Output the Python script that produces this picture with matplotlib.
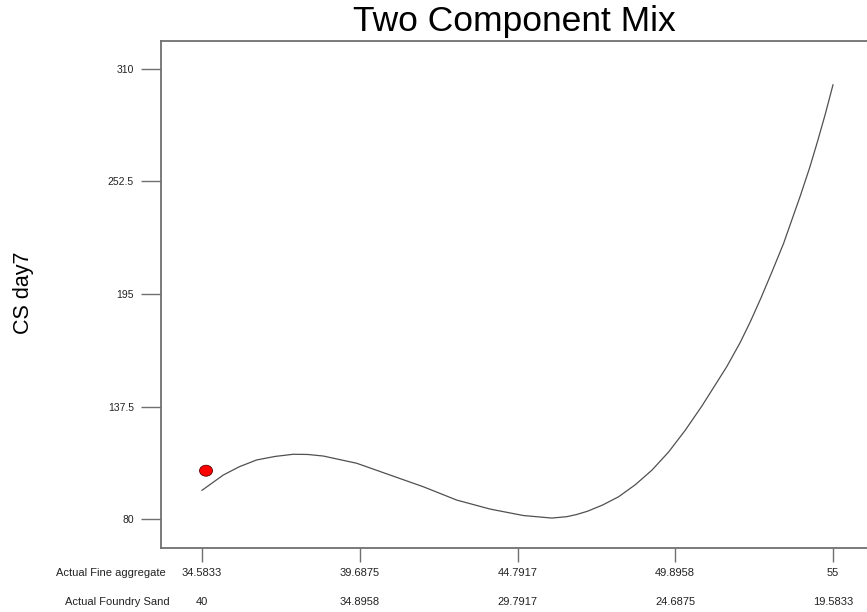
import matplotlib
matplotlib.use("Agg")
import matplotlib.pyplot as plt
from matplotlib.patches import Ellipse
import matplotlib.transforms as mtransforms

plt.rcParams['font.family'] = ['Liberation Sans', 'DejaVu Sans']

# values
fine_agg = [34.5833, 35.272, 35.80, 36.353, 36.95, 37.537, 38.0, 38.508, 39.589,
            40.666, 41.743, 42.824, 43.902, 44.979, 45.9, 46.383, 46.7, 47.06,
            47.55, 48.064, 48.601, 49.142, 49.683, 50.220, 50.760, 51.16,
            51.56, 52.0, 52.33, 52.67, 53.03, 53.4, 53.95, 54.25, 54.5,
            54.75, 55.0]
cs_day7 = [94.7, 102.5, 106.8, 110.2, 112.0, 113.1, 113.0, 112.2, 108.5,
           102.5, 96.5, 89.7, 85.1, 81.8, 80.5, 81.2, 82.3, 84.0,
           87.2, 91.4, 97.5, 105.0, 114.3, 125.4, 137.8, 147.8,
           157.8, 170.3, 181.0, 193.0, 206.5, 220.8, 245.5, 259.8, 273.0,
           286.9, 301.9]
design_pt = (34.713, 104.7)

xticks = [34.5833, 39.6875, 44.7917, 49.8958, 55]
xlabels = ['34.5833', '39.6875', '44.7917', '49.8958', '55']
sand_labels = ['40', '34.8958', '29.7917', '24.6875', '19.5833']
yticks = [80, 137.5, 195, 252.5, 310]
ylabels = ['80', '137.5', '195', '252.5', '310']

W, H = 867, 612
fig = plt.figure(figsize=(W / 100, H / 100), dpi=100)
ax = fig.add_axes([161 / W, 64 / H, 713 / W, 507 / H])

spine_c = '#707070'
ax.plot(fine_agg, cs_day7, color='#505050', lw=0.9)
ax.add_patch(Ellipse(design_pt, 0.42, 5.6, facecolor='#ff0000',
                     edgecolor='#600000', lw=0.6, zorder=3))

ax.set_xlim(33.256, 56.327)
ax.set_ylim(65.2, 324.3)

for s in ['top', 'left', 'bottom', 'right']:
    ax.spines[s].set_color(spine_c)
    ax.spines[s].set_linewidth(1.3)

ax.set_xticks(xticks)
ax.set_xticklabels(xlabels)
ax.set_yticks(yticks)
ax.set_yticklabels(ylabels)
ax.tick_params(axis='x', direction='out', length=10, width=1, color=spine_c,
               pad=4.5, labelsize=8, labelcolor='#222222')
ax.tick_params(axis='y', direction='out', length=14.5, width=1, color=spine_c,
               pad=5, labelsize=7.5, labelcolor='#222222')

trans = mtransforms.blended_transform_factory(ax.transData, fig.transFigure)
for x, lab in zip(xticks, sand_labels):
    ax.text(x, 1 - 601.7 / H, lab, transform=trans, ha='center', va='center',
            fontsize=8, color='#222222')

fig.text(111 / W, 1 - 572.7 / H, 'Actual Fine aggregate', ha='center',
         va='center', fontsize=8, color='#222222')
fig.text(117 / W, 1 - 601.7 / H, 'Actual Foundry Sand', ha='center',
         va='center', fontsize=8, color='#222222')

fig.text(514 / W, 1 - 21 / H, 'Two Component Mix', ha='center', va='center',
         fontsize=25.5, color='black')
fig.text(24 / W, 1 - 292.5 / H, 'CS day7', ha='center', va='center',
         rotation=90, fontsize=15.5, color='black')

fig.savefig('out.png', dpi=100)
